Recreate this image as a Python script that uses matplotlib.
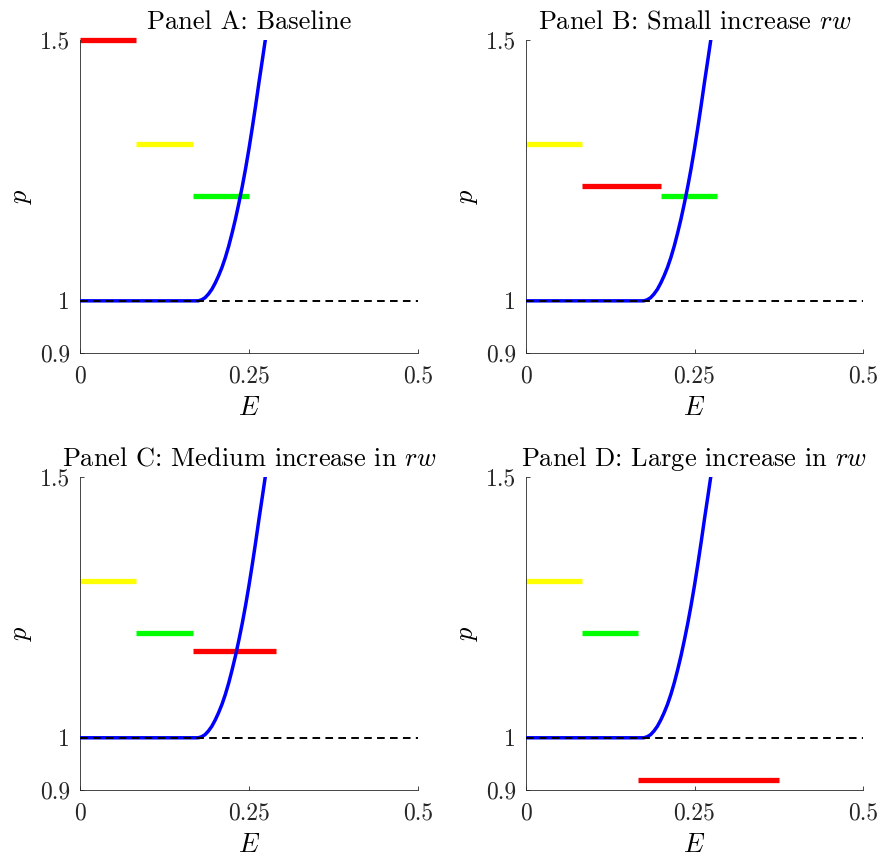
import matplotlib
matplotlib.use("Agg")
import matplotlib.pyplot as plt

# ---------------- data ----------------
titles = ["Panel A: Baseline",
          "Panel B: Small increase $rw$",
          "Panel C: Medium increase in $rw$",
          "Panel D: Large increase in $rw$"]

# blue curve, same in all panels
curve_E = [0.0, 0.170, 0.175, 0.180, 0.185, 0.190, 0.195, 0.200, 0.205, 0.210,
           0.215, 0.220, 0.225, 0.230, 0.235, 0.240, 0.245, 0.250, 0.255,
           0.260, 0.265, 0.270, 0.275, 0.280]
curve_p = [1.000, 1.000, 1.000, 1.002, 1.006, 1.013, 1.022, 1.034, 1.048, 1.064,
           1.083, 1.105, 1.130, 1.157, 1.187, 1.219, 1.254, 1.292, 1.333,
           1.376, 1.421, 1.464, 1.508, 1.555]

# horizontal segments per panel
red_E0 = [0.0, 1/12, 1/6, 1/6]
red_E1 = [1/12, 0.20, 0.29, 0.375]
red_p = [1.50, 1.22, 1.167, 0.92]

yellow_E0 = [1/12, 0.0, 0.0, 0.0]
yellow_E1 = [1/6, 1/12, 1/12, 1/12]
yellow_p = [1.30, 1.30, 1.30, 1.30]

green_E0 = [1/6, 0.20, 1/12, 1/12]
green_E1 = [0.25, 0.283, 1/6, 1/6]
green_p = [1.20, 1.20, 1.20, 1.20]

ref_E = [0.0, 0.5]
ref_p = [1.0, 1.0]

xticks = [0, 0.25, 0.5]
xticklabels = ["0", "0.25", "0.5"]
yticks = [0.9, 1.0, 1.5]
yticklabels = ["0.9", "1", "1.5"]

# ---------------- style ----------------
plt.rcParams['font.family'] = ['cmr10', 'DejaVu Serif']
plt.rcParams['mathtext.fontset'] = 'cm'
plt.rcParams['axes.unicode_minus'] = False
plt.rcParams['lines.scale_dashes'] = False

W, H = 883, 857
fig = plt.figure(figsize=(W / 100, H / 100), dpi=100)

# axes boxes in pixels: (left, top, right, bottom)
boxes = [(80, 40, 418, 353), (525.7, 40, 863.3, 353),
         (80, 476.7, 418, 790), (525.7, 476.7, 863.3, 790)]

axcol = '#262626'
for i, (l, t, r, b) in enumerate(boxes):
    ax = fig.add_axes([l / W, 1 - b / H, (r - l) / W, (b - t) / H])
    # segments
    ax.plot([red_E0[i], red_E1[i]], [red_p[i], red_p[i]], color=(1, 0, 0),
            lw=3.8, solid_capstyle='butt', clip_on=False, zorder=2)
    ax.plot([yellow_E0[i], yellow_E1[i]], [yellow_p[i], yellow_p[i]], color=(1, 1, 0),
            lw=3.8, solid_capstyle='butt', clip_on=False, zorder=2)
    ax.plot([green_E0[i], green_E1[i]], [green_p[i], green_p[i]], color=(0, 1, 0),
            lw=3.8, solid_capstyle='butt', clip_on=False, zorder=2)
    # curve
    ax.plot(curve_E, curve_p, color=(0, 0, 1), lw=2.5, zorder=3)
    # reference dashed line
    ax.plot(ref_E, ref_p, color='black', lw=1.4, dashes=(5.5, 3.8), zorder=4)

    ax.set_xlim(0, 0.5)
    ax.set_ylim(0.9, 1.5)
    ax.set_xticks(xticks)
    ax.set_xticklabels(xticklabels)
    ax.set_yticks(yticks)
    ax.set_yticklabels(yticklabels)
    ax.tick_params(direction='in', length=3, width=0.6, colors=axcol,
                   labelsize=17, labelcolor=axcol)
    ax.tick_params(axis='x', pad=9)
    ax.tick_params(axis='y', pad=7)
    for s in ['top', 'right']:
        ax.spines[s].set_visible(False)
    for s in ['left', 'bottom']:
        ax.spines[s].set_color(axcol)
        ax.spines[s].set_linewidth(0.6)
    ax.set_xlabel('$E$', fontsize=19, labelpad=6, color='black')
    ax.set_ylabel('$p$', fontsize=19, labelpad=4, color='black')
    ax.set_title(titles[i], fontsize=19, pad=8)

fig.savefig('out.png', dpi=100)
